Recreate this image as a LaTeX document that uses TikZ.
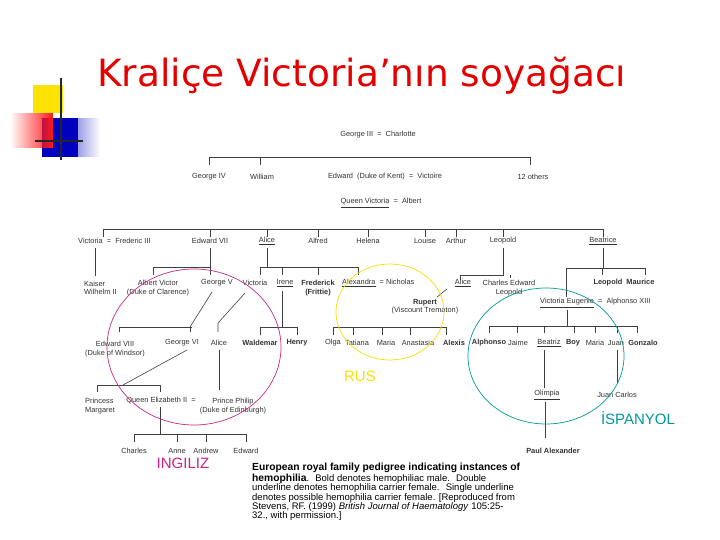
\documentclass[tikz,border=0pt]{standalone}
\usepackage{fontspec}
\setmainfont{Liberation Sans}
\newfontfamily\titlefont{DejaVu Sans}
\usetikzlibrary{fadings}
\begin{document}
\begin{tikzpicture}[x=1pt,y=-1pt,
  p/.style={inner sep=0pt,font=\fontsize{7.4}{8.4}\selectfont,text=black!80,align=center},
  pb/.style={p,font=\fontsize{7.4}{8.4}\selectfont\bfseries},
  ln/.style={draw=black!75,line width=0.6pt},
  lab/.style={inner sep=0pt,font=\fontsize{15}{15}\selectfont}]
\useasboundingbox (0,0) rectangle (720,540);
\fill[white] (0,0) rectangle (720,540);
% logo
\fill[yellow!85!orange] (33,85) rectangle (63,113);
\fill[blue!75!black,path fading=east] (42,118) rectangle (100,157);
\fill[blue!75!black] (42,118) rectangle (78,157);
\fill[red!90,path fading=west] (10,113) rectangle (53,148);
\draw[black!85,line width=1.2pt] (61,78) -- (61,160);
\draw[black!85,line width=1.2pt] (35,141) -- (83,141);
% title
\node[inner sep=0pt,anchor=west,text=red!90!black,font=\titlefont\fontsize{37.5}{38}\selectfont] (title) at (97,76) {Kraliçe Victoria’nın soyağacı};
% generation 1
\node[p] (g3) at (378,135) {George III \ = \ Charlotte};
\draw[ln] (209,165) -- (209,157) -- (530,157) -- (530,165); \draw[ln] (260,157) -- (260,165);
\node[p] (g4) at (209,177) {George IV};
\node[p] (wil) at (262,177) {William};
\node[p] (edw) at (385,177) {Edward \ (Duke of Kent) \ = \ Victoire};
\node[p] (oth) at (533,177) {12 others};
\node[p] (qv) at (381,203) {\underline{Queen Victoria} \ = \ Albert};
\draw[ln] (103,237) -- (103,229) -- (603,229) -- (603,237);
\foreach \x in {210,267,318,368,425,456,503} \draw[ln] (\x,229) -- (\x,237);
\node[p,anchor=west] (vic) at (78,241) {Victoria \ = \ Frederic III};
\node[p] (e7) at (210,241) {Edward VII};
\node[p] (ali) at (267,241) {\underline{Alice}};
\node[p] (alf) at (318,241) {Alfred};
\node[p] (hel) at (368,241) {Helena};
\node[p] (lou) at (425,241) {Louise};
\node[p] (art) at (456,241) {Arthur};
\node[p] (leo) at (503,241) {Leopold};
\node[p] (bea) at (603,241) {\underline{Beatrice}};
% generation 3
\draw[ln] (95,248) -- (95,276);
\node[p,anchor=west,align=left] (kai) at (84,288) {Kaiser\\Wilhelm II};
\draw[ln] (210,248) -- (210,275); \draw[ln] (153,275) -- (153,267) -- (210,267);
\node[p] (av) at (158,288) {Albert Victor\\(Duke of Clarence)};
\node[p] (g5) at (217,283) {George V};
\draw[ln] (267,248) -- (267,267); \draw[ln] (260,275) -- (260,267) -- (358,267) -- (358,275);
\draw[ln] (282,267) -- (282,275); \draw[ln] (318,267) -- (318,275);
\node[p] (vi2) at (255,283) {Victoria};
\node[p] (ire) at (285,283) {\underline{Irene}};
\node[pb] (fre) at (318,288) {Frederick\\(Frittie)};
\node[p,anchor=west] (alx) at (342,283) {\underline{Alexandra} \ = Nicholas};
\draw[ln] (503,248) -- (503,275) -- (460,275) -- (460,280); \draw[ln] (510,275) -- (510,278);
\node[p] (ali2) at (463,283) {\underline{Alice}};
\node[p] (cel) at (509,288) {Charles Edward\\Leopold};
\draw[ln] (603,248) -- (603,268); \draw[ln] (566,297) -- (566,268) -- (645,268) -- (645,275); \draw[ln] (602,268) -- (602,275);
\node[pb] (lm) at (624,283) {Leopold \ Maurice};
\node[p,anchor=west] (ve) at (540,303) {\underline{Victoria Eugenie} \ = \ Alphonso XIII};
\draw[ln] (447,289) -- (437,297);
\node[p] (rup) at (425,307) {\textbf{Rupert}\\(Viscount Trematon)};
% generation 4
\draw[ln] (212,292) -- (190,327); \draw[ln] (119,332) -- (119,327) -- (192,327); \draw[ln] (190,327) -- (190,332);
\draw[ln] (245,293) -- (218,323) -- (218,332);
\node[p] (e8) at (115,349) {Edward VIII\\(Duke of Windsor)};
\node[p] (g6) at (182,343) {George VI};
\node[p] (ali3) at (219,343) {Alice};
\draw[ln] (282,291) -- (282,327); \draw[ln] (260,335) -- (260,327) -- (297,327) -- (297,335);
\node[pb] (wal) at (260,343) {Waldemar};
\node[pb] (hen) at (297,343) {Henry};
\draw[ln] (333,335) -- (333,327) -- (446,327) -- (446,335);
\foreach \x in {353,382,410} \draw[ln] (\x,327) -- (\x,335);
\node[p] (olg) at (333,343) {Olga};
\node[p] (tat) at (357,343) {Tatiana};
\node[p] (mar) at (386,343) {Maria};
\node[p] (ana) at (418,343) {Anastasia};
\node[pb] (alxs) at (454,343) {Alexis};
\draw[ln] (567,310) -- (567,326); \draw[ln] (489,333) -- (489,326) -- (637,326) -- (637,333);
\foreach \x in {517,544,574,595,617} \draw[ln] (\x,326) -- (\x,333);
\node[pb] (alp) at (489,343) {Alphonso};
\node[p] (jai) at (518,343) {Jaime};
\node[p] (bz) at (549,343) {\underline{Beatriz}};
\node[pb] (boy) at (573,343) {Boy};
\node[p] (mr2) at (595,343) {Maria};
\node[p] (jua) at (616,343) {Juan};
\node[pb] (gon) at (643,343) {Gonzalo};
% generation 5
\draw[ln] (187,350) -- (123,385); \draw[ln] (97,392) -- (97,385) -- (160,385) -- (160,392);
\draw[ln] (219,350) -- (219,390);
\node[p,anchor=west,align=left] (pm) at (85,406) {Princess\\Margaret};
\node[p] (qe) at (162,401) {Queen Elizabeth II \ = };
\node[p] (pp) at (233,406) {Prince Philip\\(Duke of Edinburgh)};
\draw[ln] (544,350) -- (544,388); \draw[ln] (617,350) -- (617,383);
\node[p] (oli) at (547,395) {\underline{Olimpia}};
\node[p] (jc) at (617,395) {Juan Carlos};
\draw[ln] (545,402) -- (545,438);
\node[pb] (pa) at (553,451) {Paul Alexander};
\draw[ln] (160,407) -- (160,434); \draw[ln] (134,442) -- (134,434) -- (246,434) -- (246,442);
\draw[ln] (177,434) -- (177,442); \draw[ln] (206,434) -- (206,442);
\node[p] (cha) at (134,451) {Charles};
\node[p] (ann) at (177,451) {Anne};
\node[p] (and) at (206,451) {Andrew};
\node[p] (edd) at (246,451) {Edward};
% circles
\draw[magenta!80!black,line width=0.7pt] (194,347) ellipse [x radius=87,y radius=78];
\draw[yellow!80!orange,line width=0.7pt] (390,312) ellipse [x radius=54,y radius=48];
\draw[teal!80!cyan,line width=0.7pt] (546,356) ellipse [x radius=78,y radius=68];
\node[lab,text=magenta!85!black] (ing) at (183,463) {INGILIZ};
\node[lab,text=yellow!80!orange] (rus) at (360,376) {RUS};
\node[lab,text=teal!80!cyan] (isp) at (638,418) {İSPANYOL};
% caption
\node[inner sep=0pt,anchor=north west,align=left,font=\fontsize{9.5}{9.4}\selectfont] (cap) at (252,463)
{\textbf{\fontsize{10.3}{9.4}\selectfont European royal family pedigree indicating instances of}\\
\textbf{\fontsize{10.3}{9.4}\selectfont hemophilia}. \ Bold denotes hemophiliac male. \ Double\\
underline denotes hemophilia carrier female. \ Single underline\\
denotes possible hemophilia carrier female. [Reproduced from\\
Stevens, RF. (1999) \textit{British Journal of Haematology} 105:25-\\
32., with permission.]};
\end{tikzpicture}
\end{document}
